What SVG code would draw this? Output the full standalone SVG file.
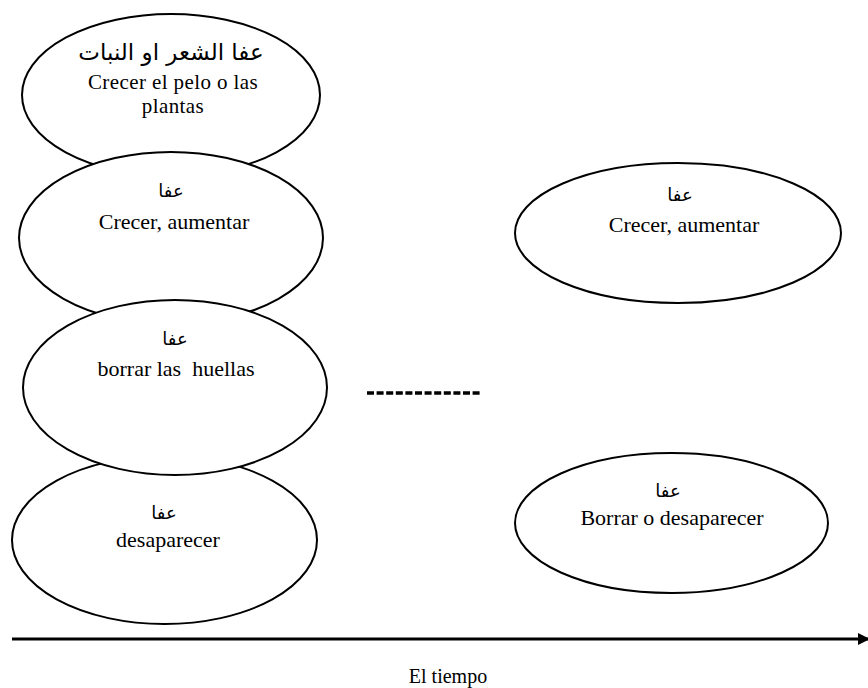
<svg xmlns="http://www.w3.org/2000/svg" width="868" height="688" viewBox="0 0 868 688">
<style>
.node ellipse{fill:#fff;stroke:#000;stroke-width:2}
.lat{font-family:"Liberation Serif","Times New Roman",serif;font-size:22px;fill:#000;text-anchor:middle}
.ar{font-family:"DejaVu Sans","Noto Sans",sans-serif;font-size:18px;fill:#000;text-anchor:middle}
</style>
<defs>
<marker id="arr" viewBox="0 0 10 10" refX="10" refY="5" markerWidth="4" markerHeight="4.6" markerUnits="strokeWidth" orient="auto">
<path d="M0,0 L10,5 L0,10 z" fill="#000"/>
</marker>
</defs>
<rect width="868" height="688" fill="#fff"/>
<g id="n1" class="node">
<ellipse cx="171" cy="95" rx="149" ry="81"/>
<text class="ar" x="171" y="60" style="font-size:23px" direction="rtl">عفا الشعر او النبات</text>
<text class="lat" x="173" y="89" style="font-size:21px;letter-spacing:0.4px">Crecer el pelo o las</text>
<text class="lat" x="173" y="112.5" style="font-size:21px;letter-spacing:0.4px">plantas</text>
</g>
<g id="n2" class="node">
<ellipse cx="171" cy="238" rx="152" ry="86"/>
<text class="ar" x="171" y="197">عفا</text>
<text class="lat" x="174" y="229">Crecer, aumentar</text>
</g>
<g id="n4" class="node">
<ellipse cx="164.5" cy="540" rx="152.5" ry="84"/>
<text class="ar" x="164" y="519">عفا</text>
<text class="lat" x="168" y="547">desaparecer</text>
</g>
<g id="n3" class="node">
<ellipse cx="175" cy="387.5" rx="152" ry="87.5"/>
<text class="ar" x="175" y="345">عفا</text>
<text class="lat" x="176" y="376" xml:space="preserve">borrar las  huellas</text>
</g>
<g id="n5" class="node">
<ellipse cx="678" cy="233" rx="163" ry="70"/>
<text class="ar" x="680" y="201">عفا</text>
<text class="lat" x="684" y="232">Crecer, aumentar</text>
</g>
<g id="n6" class="node">
<ellipse cx="671.5" cy="523" rx="156.5" ry="70"/>
<text class="ar" x="668" y="497">عفا</text>
<text class="lat" x="672" y="525">Borrar o desaparecer</text>
</g>
<g id="connectors">
<line x1="367" y1="393" x2="482" y2="393" stroke="#000" stroke-width="3.5" stroke-dasharray="7 2.6"/>
<line x1="12" y1="639" x2="870" y2="639" stroke="#000" stroke-width="3" marker-end="url(#arr)"/>
</g>
<text class="lat" x="448" y="683" style="font-size:20px">El tiempo</text>
</svg>
